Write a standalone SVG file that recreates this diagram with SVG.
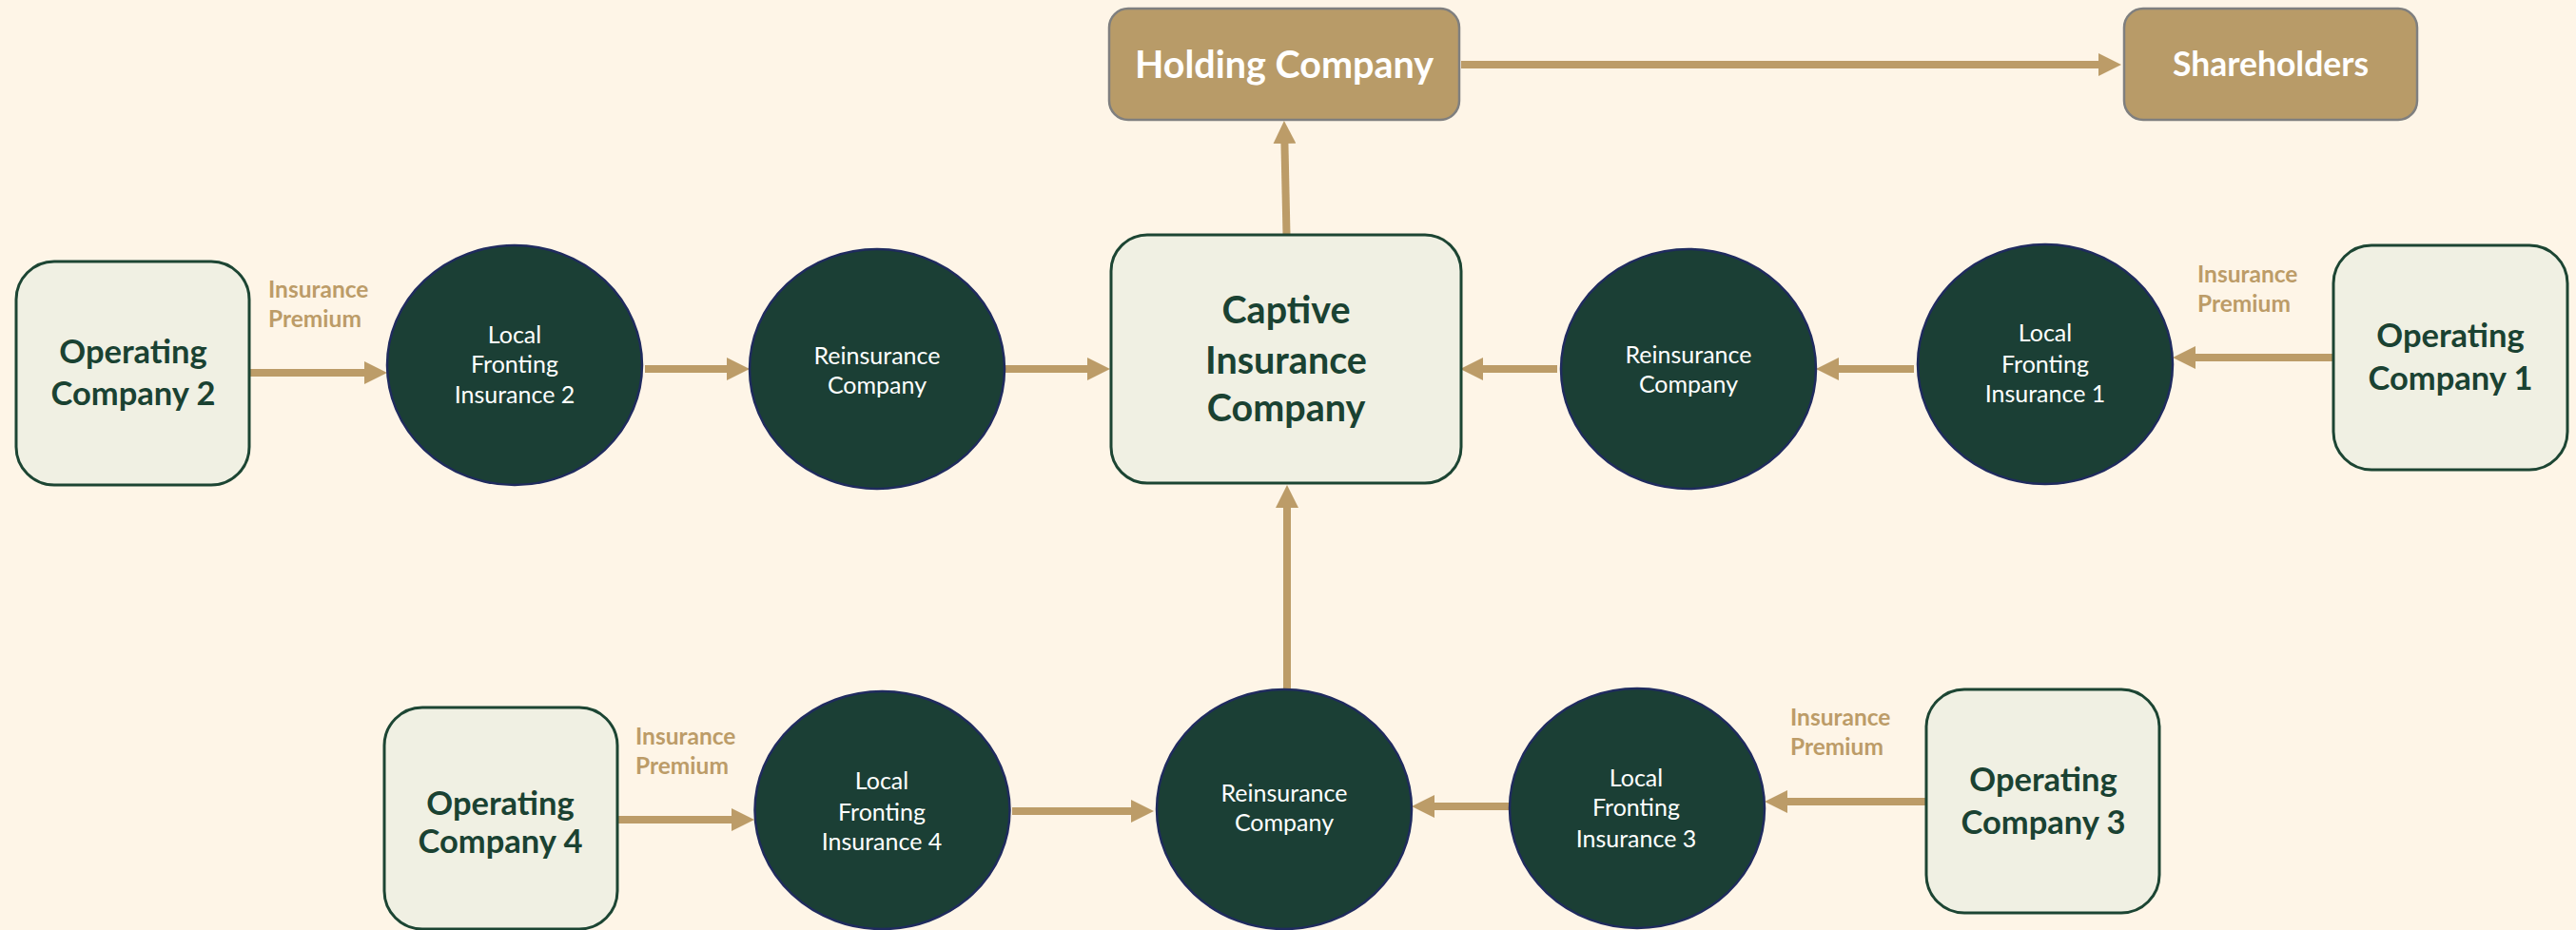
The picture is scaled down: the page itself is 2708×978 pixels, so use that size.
<svg xmlns="http://www.w3.org/2000/svg" width="2708" height="978" viewBox="0 0 2708 978">
<style>
.bg{fill:#FEF5E7}
.box{fill:#F0F0E3;stroke:#1C4533;stroke-width:3}
.gold{fill:#B89B68;stroke:#7F7F7F;stroke-width:2.5}
.ell{fill:#1B3F35;stroke:#1F2B5E;stroke-width:2.5}
.conn{fill:none;stroke:#BC9C68;stroke-width:8}
text{font-family:Lato,"Liberation Sans",sans-serif;text-anchor:middle}
.big{font-size:34.5px;font-weight:bold;fill:#1A4232}
.cap{font-size:39.5px;font-weight:bold;fill:#1A4232}
.wb{font-size:39.5px;font-weight:bold;fill:#FFFFFF}
.sm{font-size:25px;fill:#FFFFFF}
.lbl{font-size:24.5px;font-weight:bold;fill:#BC9C68;text-anchor:start}
</style>
<defs>
<marker id="ah" markerWidth="24" markerHeight="24" refX="2" refY="12" orient="auto" markerUnits="userSpaceOnUse"><path d="M0,0 L24,12 L0,24 Z" fill="#BC9C68"/></marker>
</defs>
<rect class="bg" x="0" y="0" width="2708" height="978"/>
<g id="connectors">
<path class="conn" marker-end="url(#ah)" d="M1536,68 H2208"/>
<path class="conn" marker-end="url(#ah)" d="M1352.5,247 L1350.4,149"/>
<path class="conn" marker-end="url(#ah)" d="M1353,725 V532"/>
<path class="conn" marker-end="url(#ah)" d="M263,392 H385"/>
<path class="conn" marker-end="url(#ah)" d="M678,388 H766"/>
<path class="conn" marker-end="url(#ah)" d="M1057,388 H1145"/>
<path class="conn" marker-end="url(#ah)" d="M1637,388 H1557"/>
<path class="conn" marker-end="url(#ah)" d="M2012,388 H1931"/>
<path class="conn" marker-end="url(#ah)" d="M2453,376 H2306"/>
<path class="conn" marker-end="url(#ah)" d="M649,862 H771"/>
<path class="conn" marker-end="url(#ah)" d="M1064,853 H1191"/>
<path class="conn" marker-end="url(#ah)" d="M1587,848 H1506"/>
<path class="conn" marker-end="url(#ah)" d="M2025,843 H1877"/>
</g>
<g id="labels">
<text class="lbl" x="282" y="313">Insurance</text>
<text class="lbl" x="282" y="344">Premium</text>
<text class="lbl" x="2310" y="297">Insurance</text>
<text class="lbl" x="2310" y="328">Premium</text>
<text class="lbl" x="668" y="783">Insurance</text>
<text class="lbl" x="668" y="814">Premium</text>
<text class="lbl" x="1882" y="763">Insurance</text>
<text class="lbl" x="1882" y="794">Premium</text>
</g>
<g id="holding">
<rect class="gold" x="1166" y="9" width="368" height="117" rx="20"/>
<text class="wb" x="1350" y="82">Holding Company</text>
</g>
<g id="shareholders">
<rect class="gold" x="2233" y="9" width="308" height="117" rx="20"/>
<text class="wb" x="2387" y="80" style="font-size:35.5px">Shareholders</text>
</g>
<g id="captive">
<rect class="box" x="1168" y="247" width="368" height="261" rx="38"/>
<text class="cap" x="1352" y="340">Captive</text>
<text class="cap" x="1352" y="393">Insurance</text>
<text class="cap" x="1352" y="443">Company</text>
</g>
<g id="op2">
<rect class="box" x="17" y="275" width="245" height="235" rx="40"/>
<text class="big" x="140" y="382">Operating</text>
<text class="big" x="140" y="426">Company 2</text>
</g>
<g id="op1">
<rect class="box" x="2453" y="258" width="246" height="236" rx="40"/>
<text class="big" x="2576" y="365">Operating</text>
<text class="big" x="2576" y="410">Company 1</text>
</g>
<g id="op4">
<rect class="box" x="404" y="744" width="245" height="233" rx="40"/>
<text class="big" x="526" y="857">Operating</text>
<text class="big" x="526" y="897">Company 4</text>
</g>
<g id="op3">
<rect class="box" x="2025" y="725" width="245" height="235" rx="40"/>
<text class="big" x="2148" y="832">Operating</text>
<text class="big" x="2148" y="877">Company 3</text>
</g>
<g id="lf2">
<ellipse class="ell" cx="541" cy="384" rx="134" ry="126"/>
<text class="sm" x="541" y="361">Local</text>
<text class="sm" x="541" y="392">Fronting</text>
<text class="sm" x="541" y="424">Insurance 2</text>
</g>
<g id="reins-left">
<ellipse class="ell" cx="922" cy="388" rx="134" ry="126"/>
<text class="sm" x="922" y="383">Reinsurance</text>
<text class="sm" x="922" y="414">Company</text>
</g>
<g id="reins-right">
<ellipse class="ell" cx="1775" cy="388" rx="134" ry="126"/>
<text class="sm" x="1775" y="382">Reinsurance</text>
<text class="sm" x="1775" y="413">Company</text>
</g>
<g id="lf1">
<ellipse class="ell" cx="2150" cy="383" rx="134" ry="126"/>
<text class="sm" x="2150" y="359">Local</text>
<text class="sm" x="2150" y="392">Fronting</text>
<text class="sm" x="2150" y="423">Insurance 1</text>
</g>
<g id="lf4">
<ellipse class="ell" cx="927.5" cy="852" rx="134" ry="125"/>
<text class="sm" x="927" y="830">Local</text>
<text class="sm" x="927" y="863">Fronting</text>
<text class="sm" x="927" y="894">Insurance 4</text>
</g>
<g id="reins-bottom">
<ellipse class="ell" cx="1350" cy="851" rx="134" ry="126"/>
<text class="sm" x="1350" y="843">Reinsurance</text>
<text class="sm" x="1350" y="874">Company</text>
</g>
<g id="lf3">
<ellipse class="ell" cx="1721" cy="850" rx="134" ry="126"/>
<text class="sm" x="1720" y="827">Local</text>
<text class="sm" x="1720" y="858">Fronting</text>
<text class="sm" x="1720" y="891">Insurance 3</text>
</g>
</svg>
